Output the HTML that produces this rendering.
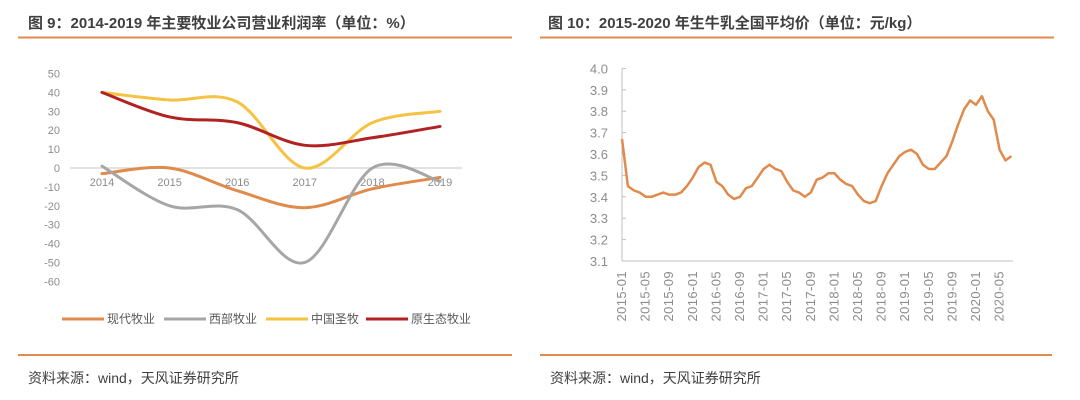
<!DOCTYPE html>
<html><head><meta charset="utf-8">
<style>
body{margin:0;width:1080px;height:400px;background:#fff;overflow:hidden;font-family:"Liberation Sans","Noto Sans CJK SC",sans-serif;}
svg{display:block}
</style></head><body>
<svg width="1080" height="400" id="svg">
<text x="28" y="28" font-size="15" font-weight="bold" fill="#404040" font-family="Liberation Sans, Noto Sans CJK SC, sans-serif">图 9：2014-2019 年主要牧业公司营业利润率（单位：%）</text>
<text x="548" y="28" font-size="15" font-weight="bold" fill="#404040" font-family="Liberation Sans, Noto Sans CJK SC, sans-serif">图 10：2015-2020 年生牛乳全国平均价（单位：元/kg）</text>
<line x1="18" y1="37.5" x2="512" y2="37.5" stroke="#e08a4c" stroke-width="2"/>
<line x1="540" y1="37.5" x2="1054" y2="37.5" stroke="#e08a4c" stroke-width="2"/>
<line x1="18" y1="355" x2="512" y2="355" stroke="#e08a4c" stroke-width="2"/>
<line x1="540" y1="355" x2="1052" y2="355" stroke="#e08a4c" stroke-width="2"/>
<text x="28" y="383" font-size="14" fill="#404040">资料来源：wind，天风证券研究所</text>
<text x="550" y="383" font-size="14" fill="#404040">资料来源：wind，天风证券研究所</text>
<g id="left"></g>
<g id="right"></g>
</svg>
<script>
const years=["2014","2015","2016","2017","2018","2019"];
const seriesNames=["现代牧业","西部牧业","中国圣牧","原生态牧业"];
const xiandai=[-3,0,-12,-21,-11,-5];
const xibu=[1,-20,-22,-50,0,-7];
const shengmu=[40,36,35,0,24,30];
const yuanshengtai=[40,27,24,12,16,22];
const leftTicks=[50,40,30,20,10,0,-10,-20,-30,-40,-50,-60];

const months=["2015-01","2015-05","2015-09","2016-01","2016-05","2016-09","2017-01","2017-05","2017-09","2018-01","2018-05","2018-09","2019-01","2019-05","2019-09","2020-01","2020-05"];
const milkPrice=[3.67,3.45,3.43,3.42,3.40,3.40,3.41,3.42,3.41,3.41,3.42,3.45,
3.49,3.54,3.56,3.55,3.47,3.45,3.41,3.39,3.40,3.44,3.45,3.49,
3.53,3.55,3.53,3.52,3.47,3.43,3.42,3.40,3.42,3.48,3.49,3.51,
3.51,3.48,3.46,3.45,3.41,3.38,3.37,3.38,3.45,3.51,3.55,3.59,
3.61,3.62,3.60,3.55,3.53,3.53,3.56,3.59,3.66,3.74,3.81,3.85,
3.83,3.87,3.80,3.76,3.62,3.57,3.59];
const rightTicks=[4.0,3.9,3.8,3.7,3.6,3.5,3.4,3.3,3.2,3.1];

const NS="http://www.w3.org/2000/svg";
function mk(tag,attrs,parent){const e=document.createElementNS(NS,tag);for(const k in attrs)e.setAttribute(k,attrs[k]);parent.appendChild(e);return e;}

// left chart
const L=document.getElementById('left');
const lx=i=>102+i*67.6;
const ly=v=>168-v*1.89;
leftTicks.forEach(t=>{const e=mk('text',{x:60,y:ly(t)+4,'font-size':11,fill:'#8c8c8c','text-anchor':'end'},L);e.textContent=t;

});
const zl=mk('line',{x1:70,x2:462,y1:ly(0),y2:ly(0),stroke:'#d9d9d9','stroke-width':1.5},L);


years.forEach((y,i)=>{const e=mk('text',{x:lx(i),y:186,'font-size':11,fill:'#8c8c8c','text-anchor':'middle'},L);e.textContent=y;

});
function smooth(vals){const p=vals.map((v,i)=>[lx(i),ly(v)]);let d=`M${p[0][0]},${p[0][1]}`;
for(let i=0;i<p.length-1;i++){const p0=p[i-1]||p[i],p1=p[i],p2=p[i+1],p3=p[i+2]||p2;
const c1=[p1[0]+(p2[0]-p0[0])/6,p1[1]+(p2[1]-p0[1])/6],c2=[p2[0]-(p3[0]-p1[0])/6,p2[1]-(p3[1]-p1[1])/6];
d+=`C${c1[0]},${c1[1]} ${c2[0]},${c2[1]} ${p2[0]},${p2[1]}`;}return d;}
const leftData=[xiandai,xibu,shengmu,yuanshengtai];
const colors=["#e08a4c","#a6a6a6","#f5c242","#b22222"];
const sNames=["line-xiandai","line-xibu","line-shengmu","line-yuanshengtai"];
leftData.forEach((s,k)=>{const e=mk('path',{d:smooth(s),fill:'none',stroke:colors[k],'stroke-width':3,'stroke-linecap':'round'},L);

});
const legX=[62,164,266,366];
seriesNames.forEach((n,k)=>{const g=mk('g',{},L);


mk('line',{x1:legX[k],x2:legX[k]+42,y1:319,y2:319,stroke:colors[k],'stroke-width':3},g);
const t=mk('text',{x:legX[k]+45,y:323,'font-size':12,fill:'#595959'},g);t.textContent=n;});

// right chart
const R=document.getElementById('right');
const rx=i=>622+i*5.9;
const ry=v=>261-(v-3.1)*214;
rightTicks.forEach(t=>{const e=mk('text',{x:608,y:ry(t)+5,'font-size':13,fill:'#8c8c8c','text-anchor':'end'},R);e.textContent=t.toFixed(1);


mk('line',{x1:622,x2:626,y1:ry(t),y2:ry(t),stroke:'#bfbfbf'},R);});
const ya=mk('line',{x1:622,x2:622,y1:ry(4.0),y2:ry(3.1),stroke:'#bfbfbf'},R);


const xa=mk('line',{x1:622,x2:1013,y1:ry(3.1),y2:ry(3.1),stroke:'#bfbfbf'},R);


months.forEach((m,i)=>{const x=rx(i*4);const e=mk('text',{x:0,y:0,'font-size':13,'letter-spacing':'0.4','fill':'#8c8c8c','text-anchor':'end',transform:`translate(${x+4},271) rotate(-90)`},R);e.textContent=m;

});
const pl=mk('polyline',{points:milkPrice.map((v,i)=>`${rx(i)},${ry(v)}`).join(' '),fill:'none',stroke:'#e08a4c','stroke-width':2.5,'stroke-linejoin':'round'},R);


</script>
</body></html>
